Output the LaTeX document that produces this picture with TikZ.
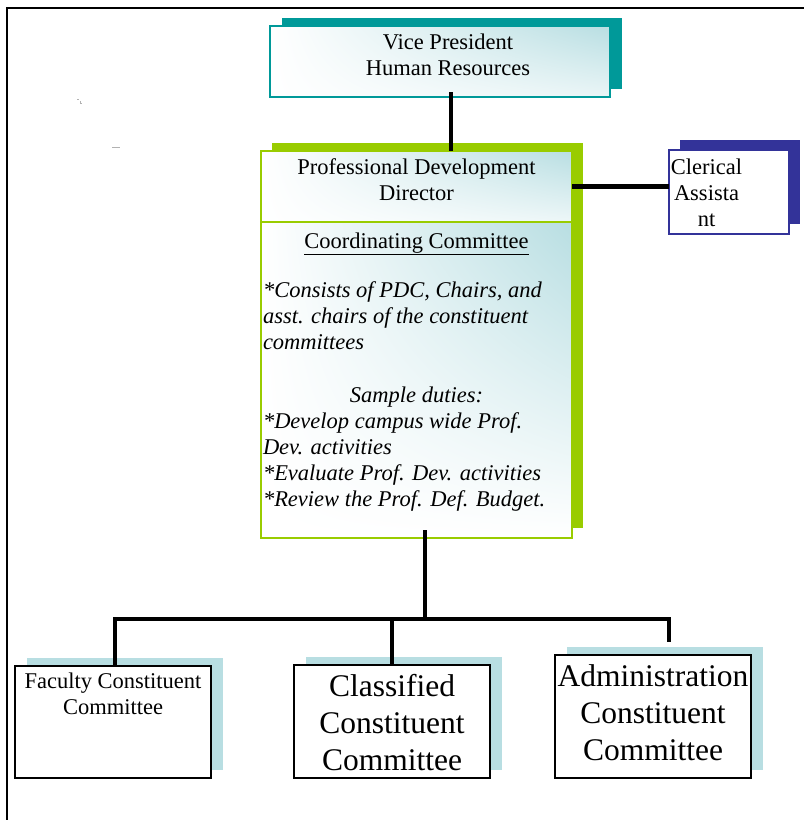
\documentclass[tikz,border=0pt]{standalone}
\usepackage{fontspec}
\setmainfont{Liberation Serif}
\usetikzlibrary{positioning,shadows,shadings}
\definecolor{vpteal}{RGB}{0,153,153}
\definecolor{pdgreen}{RGB}{153,204,0}
\definecolor{clnavy}{RGB}{51,51,153}
\definecolor{cmblue}{RGB}{184,222,226}
\newcommand\txt{\fontsize{22.5}{26.1}\selectfont}
\newcommand\bigtxt{\fontsize{31.5}{37}\selectfont}
\begin{document}
\begin{tikzpicture}[x=1pt,y=-1pt,
    box/.style={rectangle,inner xsep=0pt,outer sep=0pt,font=\txt},
    link/.style={line width=4.5pt},
    cshadow/.style={general shadow={fill=cmblue,shadow xshift=12pt,shadow yshift=8pt}}]
\useasboundingbox (0,0) rectangle (804,820);
\draw[line width=1.5pt](7,820)--(7,8)--(804,8);
\draw[gray!60,line width=0.7pt](77,99)--(79,99)(80,101)--(80,103)--(82,103)(112,147)--(120,147);
% top of the chart
\node[box,draw=vpteal,line width=1.3pt,anchor=north west,minimum width=340pt,inner ysep=4pt,text height=19.5pt,text depth=43.5pt,
    shade,upper left=white,upper right=cmblue,lower left=white,lower right=cmblue!30,
    general shadow={fill=vpteal,shadow xshift=12pt,shadow yshift=8pt}]
    (vp) at (270,26) {\hspace*{16pt}\parbox[t]{300pt}{\centering Vice President\\Human Resources}};
\node[box,draw=pdgreen,line width=1.3pt,anchor=north west,minimum width=311pt,inner ysep=9pt,text height=17pt,text depth=281pt,
    shade,upper left=white,upper right=cmblue,lower left=white,lower right=white,
    general shadow={fill=pdgreen,shadow xshift=11pt,shadow yshift=10pt}]
    (coord) at (261,222) {\parbox[t]{307pt}{\centering\underline{Coordinating Committee}\par\vspace{23pt}
    \raggedright\itshape *Consists of PDC, Chairs, and\\asst. chairs of the constituent\\committees\par\vspace{27pt}
    {\centering Sample duties:\par}
    *Develop campus wide Prof.\\Dev. activities\\{}*Evaluate Prof. Dev. activities\\{}*Review the Prof. Def. Budget.}};
\node[box,draw=pdgreen,line width=1.3pt,minimum width=311pt,inner ysep=4pt,text height=19.5pt,text depth=43.5pt,
    shade,upper left=white,upper right=cmblue,lower left=white,lower right=cmblue!25,
    general shadow={fill=pdgreen,shadow xshift=11pt,shadow yshift=8pt},above=0pt of coord]
    (pdd) {\parbox[t]{307pt}{\centering Professional Development\\Director}};
\node[box,draw=clnavy,line width=1.2pt,anchor=north west,minimum width=120pt,inner ysep=5pt,text height=19.5pt,text depth=54.5pt,fill=white,
    general shadow={fill=clnavy,shadow xshift=11pt,shadow yshift=10pt}]
    (clerk) at (669,150) {\parbox[t]{75pt}{\centering Clerical\\Assista\\nt}\hspace*{45pt}};
% constituent committees
\node[box,draw,line width=1.3pt,anchor=north west,minimum width=196pt,inner ysep=3.5pt,text height=19pt,text depth=86pt,fill=white,cshadow]
    (faculty) at (15,666) {\parbox[t]{196pt}{\centering Faculty Constituent\\Committee}};
\node[box,draw,line width=1.3pt,anchor=north west,minimum width=196pt,inner ysep=5.5pt,text height=25.5pt,text depth=76.5pt,fill=white,cshadow,font=\bigtxt]
    (classified) at (294,665) {\parbox[t]{196pt}{\centering Classified\\Constituent\\Committee}};
\node[box,draw,line width=1.3pt,anchor=north west,minimum width=196pt,inner ysep=5.5pt,text height=26pt,text depth=86pt,fill=white,cshadow,font=\bigtxt]
    (admin) at (555,655) {\parbox[t]{196pt}{\centering Administration\\Constituent\\Committee}};
\coordinate (vpx) at (451,0);
\coordinate (bus) at (425,619);
\coordinate (admdrop) at (669,642);
\draw[link]([yshift=5pt]vp.south -| vpx)--(pdd.north -| vpx);
\draw[link](pdd.east)--(pdd.east -| clerk.west);
\draw[link]([yshift=8pt]coord.south -| bus)--(bus);
\draw[link]([xshift=2pt]faculty.north)|-(admdrop |- bus)--(admdrop);
\draw[link](classified.north)--(classified.north |- bus);
\end{tikzpicture}
\end{document}
